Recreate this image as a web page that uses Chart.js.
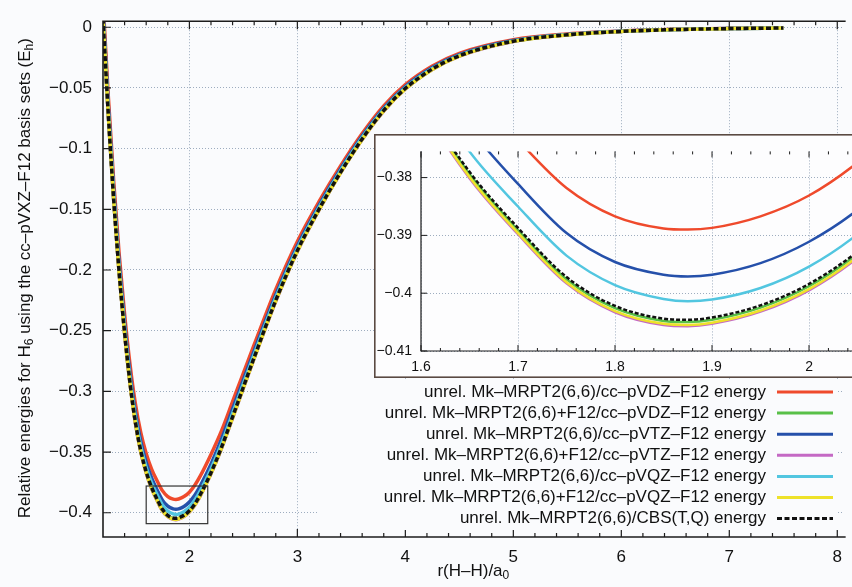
<!DOCTYPE html>
<html>
<head>
<meta charset="utf-8">
<script src="https://cdn.jsdelivr.net/npm/chart.js@4.4.1/dist/chart.umd.min.js"></script>
<style>
  html,body{margin:0;padding:0;background:#fafbfd;overflow:hidden;}
  #wrap{position:relative;width:852px;height:587px;}
  #main{position:absolute;left:0;top:0;}
  #inset{position:absolute;left:374px;top:134px;}
</style>
</head>
<body>
<div id="wrap">
  <canvas id="main" width="852" height="587"></canvas>
  <canvas id="inset" width="478" height="244"></canvas>
</div>
<script>
// r(H-H) grid in bohr
const rVals = [1.2, 1.25, 1.3, 1.35, 1.4, 1.45, 1.5, 1.55, 1.6, 1.65, 1.7, 1.75, 1.8, 1.85, 1.875, 1.9, 1.95, 2.0, 2.05, 2.1,
  2.2, 2.3, 2.4, 2.5, 2.6, 2.8, 3.0, 3.2, 3.4, 3.6, 3.8, 4.0, 4.25, 4.5, 5.0, 5.5, 6.0, 6.5, 7.0, 7.5];

// relative energies (Eh)
const eDZ = [0.022, -0.058, -0.128, -0.1872, -0.2364, -0.2777, -0.3102, -0.3340, -0.3512, -0.3640, -0.3735, -0.3818, -0.3867, -0.3888, -0.3890, -0.3887, -0.3867, -0.3831, -0.3774, -0.3699,
  -0.3520, -0.3320, -0.3085, -0.2849, -0.2615, -0.2160, -0.1765, -0.1437, -0.1142, -0.0875, -0.0647, -0.0473, -0.0319, -0.0215, -0.0103, -0.0055, -0.0030, -0.0016, -0.0009, -0.0005];
const eF12DZ = [0.0066, -0.0734, -0.1434, -0.2026, -0.2518, -0.2931, -0.3256, -0.3494, -0.3666, -0.3794, -0.3891, -0.3976, -0.4026, -0.4048, -0.4050, -0.4046, -0.4025, -0.3988, -0.3932, -0.3856,
  -0.3674, -0.3459, -0.3214, -0.2968, -0.2724, -0.2253, -0.1843, -0.1503, -0.1197, -0.0922, -0.0687, -0.0506, -0.0345, -0.0236, -0.0116, -0.0062, -0.0034, -0.0019, -0.0011, -0.0006];
const eTZ = [0.0145, -0.0655, -0.1355, -0.1947, -0.2439, -0.2852, -0.3177, -0.3415, -0.3587, -0.3714, -0.3811, -0.3896, -0.3946, -0.3968, -0.3971, -0.3968, -0.3948, -0.3911, -0.3856, -0.3780,
  -0.3600, -0.3388, -0.3147, -0.2906, -0.2667, -0.2205, -0.1802, -0.1468, -0.1168, -0.0897, -0.0666, -0.0488, -0.0331, -0.0225, -0.0109, -0.0059, -0.0032, -0.0018, -0.0010, -0.0006];
const eF12TZ = [0.0059, -0.0741, -0.1441, -0.2033, -0.2525, -0.2938, -0.3263, -0.3501, -0.3673, -0.3801, -0.3898, -0.3983, -0.4033, -0.4055, -0.4057, -0.4053, -0.4032, -0.3995, -0.3939, -0.3863,
  -0.3680, -0.3465, -0.3220, -0.2974, -0.2729, -0.2258, -0.1847, -0.1506, -0.1200, -0.0925, -0.0690, -0.0509, -0.0348, -0.0238, -0.0117, -0.0063, -0.0034, -0.0019, -0.0011, -0.0006];
const eQZ = [0.0105, -0.0695, -0.1395, -0.1987, -0.2479, -0.2892, -0.3217, -0.3455, -0.3627, -0.3755, -0.3850, -0.3935, -0.3986, -0.4010, -0.4014, -0.4011, -0.3991, -0.3954, -0.3898, -0.3822,
  -0.3641, -0.3427, -0.3183, -0.2938, -0.2696, -0.2228, -0.1822, -0.1485, -0.1182, -0.0909, -0.0676, -0.0497, -0.0339, -0.0231, -0.0113, -0.0061, -0.0033, -0.0019, -0.0011, -0.0006];
const eF12QZ = [0.0061, -0.0739, -0.1439, -0.2031, -0.2523, -0.2936, -0.3261, -0.3499, -0.3671, -0.3799, -0.3896, -0.3981, -0.4031, -0.4053, -0.4055, -0.4051, -0.4030, -0.3993, -0.3937, -0.3861,
  -0.3678, -0.3463, -0.3218, -0.2972, -0.2727, -0.2256, -0.1846, -0.1505, -0.1199, -0.0924, -0.0689, -0.0508, -0.0347, -0.0237, -0.0116, -0.0063, -0.0034, -0.0019, -0.0011, -0.0006];
const eCBS = [0.007, -0.073, -0.143, -0.2022, -0.2514, -0.2927, -0.3252, -0.3490, -0.3662, -0.3790, -0.3887, -0.3972, -0.4022, -0.4044, -0.4046, -0.4042, -0.4021, -0.3984, -0.3928, -0.3852,
  -0.3670, -0.3455, -0.3210, -0.2964, -0.2720, -0.2250, -0.1840, -0.1500, -0.1195, -0.0920, -0.0685, -0.0504, -0.0344, -0.0235, -0.0115, -0.0062, -0.0034, -0.0019, -0.0011, -0.0006];

const seriesLabels = [
  'unrel. Mk\u2013MRPT2(6,6)/cc\u2013pVDZ\u2013F12 energy',
  'unrel. Mk\u2013MRPT2(6,6)+F12/cc\u2013pVDZ\u2013F12 energy',
  'unrel. Mk\u2013MRPT2(6,6)/cc\u2013pVTZ\u2013F12 energy',
  'unrel. Mk\u2013MRPT2(6,6)+F12/cc\u2013pVTZ\u2013F12 energy',
  'unrel. Mk\u2013MRPT2(6,6)/cc\u2013pVQZ\u2013F12 energy',
  'unrel. Mk\u2013MRPT2(6,6)+F12/cc\u2013pVQZ\u2013F12 energy',
  'unrel. Mk\u2013MRPT2(6,6)/CBS(T,Q) energy'
];
const seriesValues = [eDZ, eF12DZ, eTZ, eF12TZ, eQZ, eF12QZ, eCBS];
const seriesColors = ['#ef4a2c', '#58c048', '#2550aa', '#c469c4', '#52c6e0', '#eee22a', '#111111'];

const mainXTicks = [2, 3, 4, 5, 6, 7, 8];
const mainYTicks = [0, -0.05, -0.1, -0.15, -0.2, -0.25, -0.3, -0.35, -0.4];
const insetXTicks = [1.6, 1.7, 1.8, 1.9, 2.0];
const insetYTicks = [-0.38, -0.39, -0.4, -0.41];
// region magnified in the inset
const zoomR = [1.6, 2.17];
const zoomE = [-0.409, -0.378];

const FONT = '"Liberation Sans", Arial, Helvetica, sans-serif';
const BG = '#fafbfd';
const fmt = v => (v < 0 ? '\u2212' : '') + Math.abs(v);

function makeSets(lw, dash){
  return seriesValues.map((vals, i) => ({
    label: seriesLabels[i],
    data: rVals.map((r, k) => ({x: r, y: vals[k]})),
    borderColor: seriesColors[i],
    borderWidth: lw,
    borderDash: i === 6 ? dash : [],
    pointRadius: 0,
    cubicInterpolationMode: 'monotone',
    order: 6 - i,
    fill: false
  }));
}

function richText(ctx, parts, x, y, size){
  const big = size + 'px ' + FONT, small = Math.round(size * 0.72) + 'px ' + FONT;
  let w = 0;
  const ws = parts.map(p => { ctx.font = p.sub ? small : big; const m = ctx.measureText(p.t).width; w += m; return m; });
  let cx = x - w / 2;
  ctx.textAlign = 'left'; ctx.textBaseline = 'middle';
  parts.forEach((p, i) => {
    ctx.font = p.sub ? small : big;
    ctx.fillText(p.t, cx, y + (p.sub ? size * 0.3 : 0));
    cx += ws[i];
  });
}

function drawTicks(ctx, a, xs, ys, xMinor, major, minor){
  ctx.beginPath();
  xs.forEach(px => { ctx.moveTo(px, a.bottom); ctx.lineTo(px, a.bottom - major); ctx.moveTo(px, a.top); ctx.lineTo(px, a.top + major); });
  xMinor.forEach(px => { ctx.moveTo(px, a.bottom); ctx.lineTo(px, a.bottom - minor); ctx.moveTo(px, a.top); ctx.lineTo(px, a.top + minor); });
  ys.forEach(py => { ctx.moveTo(a.left, py); ctx.lineTo(a.left + major, py); });
  ctx.stroke();
}

// frame, ticks, zoom box, key and axis titles of the main plot
const mainDecor = {
  id: 'mainDecor',
  beforeDraw(chart){
    const ctx = chart.ctx;
    ctx.save(); ctx.fillStyle = BG; ctx.fillRect(0, 0, chart.width, chart.height); ctx.restore();
  },
  afterDatasetsDraw(chart){
    const {ctx, chartArea: a, scales: {x, y}} = chart;
    ctx.save();
    // zoom box
    ctx.strokeStyle = '#333'; ctx.lineWidth = 1.2;
    const bx = x.getPixelForValue(zoomR[0]), by = y.getPixelForValue(zoomE[1]);
    ctx.strokeRect(bx, by, x.getPixelForValue(zoomR[1]) - bx, y.getPixelForValue(zoomE[0]) - by);

    // frame
    ctx.strokeStyle = '#1c1c1c'; ctx.lineWidth = 1.6;
    ctx.beginPath();
    ctx.moveTo(a.right + 2, a.top); ctx.lineTo(a.left, a.top); ctx.lineTo(a.left, a.bottom); ctx.lineTo(a.right + 2, a.bottom);
    ctx.stroke();
    ctx.lineWidth = 1.2;
    const minors = [];
    for (let v = 1.4; v < 8.05; v += 0.2) { if (Math.abs(v - Math.round(v)) > 0.05) minors.push(x.getPixelForValue(v)); }
    drawTicks(ctx, a, mainXTicks.map(v => x.getPixelForValue(v)), mainYTicks.map(v => y.getPixelForValue(v)), minors, 8, 4);

    // key
    const keyTop = 379, keyRow = 21.1;
    ctx.fillStyle = BG;
    ctx.fillRect(318, keyTop, 520, 151);
    ctx.font = '17px ' + FONT; ctx.textAlign = 'right'; ctx.textBaseline = 'middle';
    seriesLabels.forEach((lab, i) => {
      const yy = keyTop + 13 + i * keyRow;
      ctx.fillStyle = '#111';
      ctx.fillText(lab, 766, yy);
      ctx.strokeStyle = seriesColors[i]; ctx.lineWidth = 3;
      ctx.setLineDash(i === 6 ? [5, 2.5] : []);
      ctx.beginPath(); ctx.moveTo(777, yy); ctx.lineTo(833, yy); ctx.stroke();
    });
    ctx.setLineDash([]);

    // axis titles
    ctx.fillStyle = '#111';
    richText(ctx, [{t: 'r(H\u2013H)/a'}, {t: '0', sub: true}], (a.left + a.right) / 2, 571, 17);
    ctx.translate(25, (a.top + a.bottom) / 2 - 1);
    ctx.rotate(-Math.PI / 2);
    richText(ctx, [{t: 'Relative energies for H'}, {t: '6', sub: true}, {t: ' using the cc\u2013pVXZ\u2013F12 basis sets (E'}, {t: 'h', sub: true}, {t: ')'}], 0, 0, 17);
    ctx.restore();
  }
};

// white panel, frame and ticks of the magnified view
const insetDecor = {
  id: 'insetDecor',
  beforeDraw(chart){
    const ctx = chart.ctx;
    ctx.save(); ctx.fillStyle = '#fdfdfe'; ctx.fillRect(0, 0, chart.width, chart.height); ctx.restore();
  },
  afterDatasetsDraw(chart){
    const {ctx, chartArea: a, scales: {x, y}} = chart;
    ctx.save();
    ctx.strokeStyle = '#1c1c1c'; ctx.lineWidth = 1.2;
    ctx.beginPath();
    ctx.moveTo(a.left, a.top); ctx.lineTo(a.left, a.bottom); ctx.lineTo(a.right + 2, a.bottom);
    ctx.stroke();
    const minors = [];
    for (let v = 1.62; v < 2.05; v += 0.02) { if (Math.abs(v * 10 - Math.round(v * 10)) > 0.05) minors.push(x.getPixelForValue(v)); }
    ctx.lineWidth = 1;
    drawTicks(ctx, a, insetXTicks.map(v => x.getPixelForValue(v)), insetYTicks.map(v => y.getPixelForValue(v)), minors, 6, 3);
    ctx.strokeStyle = '#5a4a42'; ctx.lineWidth = 1.6;
    ctx.strokeRect(0.8, 0.8, chart.width + 10, chart.height - 1.6);
    ctx.restore();
  }
};

const gridCol = 'rgba(125,145,170,0.75)';

new Chart(document.getElementById('main'), {
  type: 'line',
  data: { datasets: makeSets(3.5, [5, 2.5]) },
  options: {
    responsive: false, animation: false, devicePixelRatio: 1,
    layout: { padding: { top: 16, right: 0, left: 0, bottom: 0 } },
    plugins: { legend: { display: false }, tooltip: { enabled: false } },
    scales: {
      x: {
        type: 'linear', min: 1.2, max: 8.059,
        afterBuildTicks: s => { s.ticks = mainXTicks.map(v => ({value: v})); },
        afterFit: s => { s.height = 50; },
        grid: { color: gridCol, lineWidth: 1, drawTicks: false },
        border: { display: false, dash: [1, 2] },
        ticks: { autoSkip: false, maxRotation: 0, padding: 10, color: '#111', font: { family: FONT, size: 17 }, callback: v => fmt(v) }
      },
      y: {
        type: 'linear', min: -0.42, max: 0.005,
        afterBuildTicks: s => { s.ticks = mainYTicks.map(v => ({value: v})); },
        afterFit: s => { s.width = 103; },
        grid: { color: gridCol, lineWidth: 1, drawTicks: false },
        border: { display: false, dash: [1, 2] },
        ticks: { autoSkip: false, padding: 11, color: '#111', font: { family: FONT, size: 17 }, callback: v => fmt(v) }
      }
    }
  },
  plugins: [mainDecor]
});

new Chart(document.getElementById('inset'), {
  type: 'line',
  data: { datasets: makeSets(2.5, [4, 2]) },
  options: {
    responsive: false, animation: false, devicePixelRatio: 1,
    layout: { padding: { top: 1, right: 0, left: 0, bottom: 0 } },
    plugins: { legend: { display: false }, tooltip: { enabled: false } },
    scales: {
      x: {
        type: 'linear', min: 1.6, max: 2.0443,
        afterBuildTicks: s => { s.ticks = insetXTicks.map(v => ({value: v})); },
        afterFit: s => { s.height = 27; },
        grid: { color: gridCol, lineWidth: 1, drawTicks: false },
        border: { display: false, dash: [1, 2] },
        ticks: { autoSkip: false, maxRotation: 0, padding: 8, color: '#111', font: { family: FONT, size: 14 }, callback: v => fmt(v) }
      },
      y: {
        type: 'linear', min: -0.41, max: -0.37547,
        afterBuildTicks: s => { s.ticks = insetYTicks.map(v => ({value: v})); },
        afterFit: s => { s.width = 47; },
        grid: { color: gridCol, lineWidth: 1, drawTicks: false },
        border: { display: false, dash: [1, 2] },
        ticks: { autoSkip: false, padding: 9, color: '#111', font: { family: FONT, size: 14 }, callback: v => fmt(v) }
      }
    }
  },
  plugins: [insetDecor]
});
</script>
</body>
</html>
